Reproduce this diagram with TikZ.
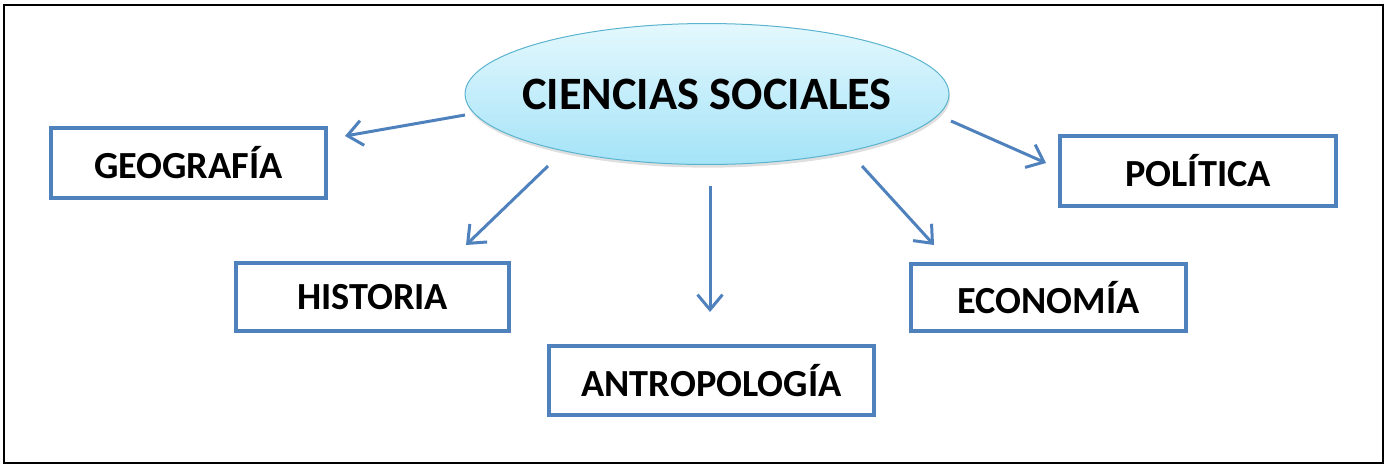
\documentclass[tikz,border=0pt]{standalone}
\usepackage{fontspec}
\setmainfont{Carlito}
\usetikzlibrary{arrows.meta,shapes.geometric,shadows}
\definecolor{boxblue}{HTML}{4F81BD}
\definecolor{ovalrim}{HTML}{5BB4CF}
\definecolor{ovaltop}{HTML}{E4F8FE}
\definecolor{ovalbot}{HTML}{A4E3F7}
\tikzset{
  topic/.style={draw=boxblue, line width=0.08cm, fill=white, inner sep=0pt,
    font=\fontsize{21.8}{26}\selectfont\bfseries},
  link/.style={draw=boxblue, line width=0.06cm,
    -{Straight Barb[length=0.3cm, width=0.5cm, line width=0.06cm]}},
}

\begin{document}
\begin{tikzpicture}[x=0.02cm, y=-0.02cm]
			%%%%% START %%%%%
			\useasboundingbox (0, 0) rectangle (1388, 468);
			\draw[line width=0.04cm] (4, 5) rectangle (1383, 463);
			
			\node[ellipse, draw=ovalrim, line width=0.02cm, top color=ovaltop, bottom color=ovalbot,
			  minimum width=9.68cm, minimum height=2.82cm, inner xsep=-0.3cm, inner ysep=0pt,
			  drop shadow={opacity=0.25, shadow xshift=0.6pt, shadow yshift=-1.8pt},
			  font=\fontsize{26.4}{31}\selectfont\bfseries] (cs) at (707, 94) {CIENCIAS SOCIALES};
			
			\node[topic, minimum width=5.5cm, minimum height=1.4cm] (geo) at (188.5, 163) {GEOGRAFÍA};
			\node[topic, minimum width=5.46cm, minimum height=1.36cm] (his) at (372.5, 297) {HISTORIA};
			\node[topic, minimum width=6.5cm, minimum height=1.38cm] (ant) at (711.5, 380.5) {ANTROPOLOGÍA};
			\node[topic, minimum width=5.5cm, minimum height=1.34cm] (eco) at (1048.5, 297.5) {ECONOMÍA};
			\node[topic, minimum width=5.52cm, minimum height=1.4cm] (pol) at (1198, 171) {POLÍTICA};
			
			\coordinate (geo-from) at (465, 115);  \coordinate (geo-to) at (345, 136);
			\coordinate (his-from) at (548, 166);  \coordinate (his-to) at (466, 245);
			\coordinate (ant-from) at (710, 186);  \coordinate (ant-to) at (710, 312);
			\coordinate (eco-from) at (862, 166);  \coordinate (eco-to) at (934, 245);
			\coordinate (pol-from) at (951, 121);  \coordinate (pol-to) at (1046, 163);
			
			\draw[link] (geo-from) -- (geo-to);
			\draw[link] (his-from) -- (his-to);
			\draw[link] (ant-from) -- (ant-to);
			\draw[link] (eco-from) -- (eco-to);
			\draw[link] (pol-from) -- (pol-to);
			%%%%% END %%%%%
\end{tikzpicture}
\end{document}
